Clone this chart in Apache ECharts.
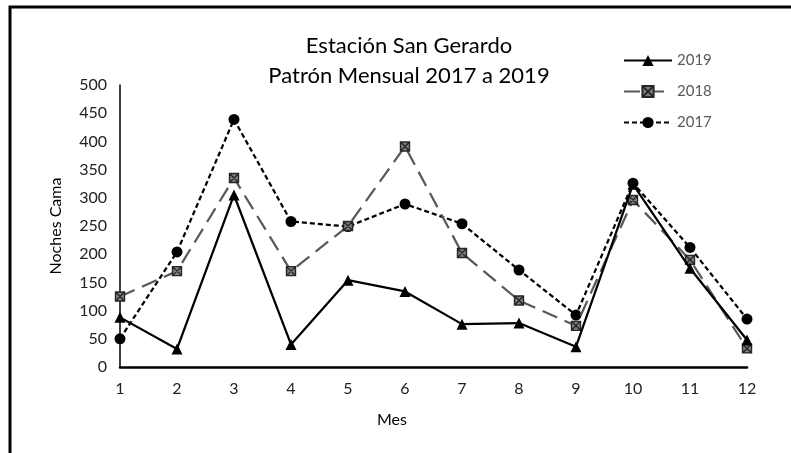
<!DOCTYPE html>
<html>
<head>
<meta charset="utf-8">
<script src="https://cdn.jsdelivr.net/npm/echarts@6/dist/echarts.min.js"></script>
<style>
html,body{margin:0;padding:0;background:#fff;}
#chart{width:791px;height:453px;}
</style>
</head>
<body>
<div id="chart"></div>
<script>
const months = ['1','2','3','4','5','6','7','8','9','10','11','12'];
const seriesNames = ['2019','2018','2017'];
const values2019 = [88, 32, 305, 40, 154, 134, 76, 78, 36, 324, 175, 48];
const values2018 = [125, 170, 335, 170, 250, 391, 202, 118, 73, 296, 190, 33];
const values2017 = [50, 204, 439, 258, 249, 289, 254, 172, 92, 326, 212, 85];
const yTicks = {min: 0, max: 500, interval: 50};
const titleText = 'Estación San Gerardo\nPatrón Mensual 2017 a 2019';
const xName = 'Mes';
const yName = 'Noches Cama';

const FONT = 'Lato';
const chart = echarts.init(document.getElementById('chart'));
const xMarker = 'path://M0,0L10,0L10,10L0,10Z M0,0L10,10 M10,0L0,10';

chart.setOption({
  animation: false,
  backgroundColor: '#fff',
  title: {
    text: titleText,
    left: 404,
    top: 26,
    textAlign: 'center',
    textStyle: {fontFamily: FONT, fontSize: 22, fontWeight: 'normal', color: '#000', lineHeight: 30}
  },
  legend: {
    orient: 'vertical',
    left: 618,
    top: 48,
    itemWidth: 48,
    itemHeight: 14,
    itemGap: 16,
    data: seriesNames,
    textStyle: {fontFamily: FONT, fontSize: 15, color: '#595959'}
  },
  grid: {left: 120, right: 44, top: 85, bottom: 86},
  xAxis: {
    type: 'category',
    data: months,
    boundaryGap: false,
    name: xName,
    nameLocation: 'middle',
    nameGap: 45,
    nameTextStyle: {fontFamily: FONT, fontSize: 16, color: '#000', padding: [0, 83, 0, 0]},
    axisLine: {lineStyle: {color: '#000', width: 2.5}},
    axisTick: {show: false},
    axisLabel: {fontFamily: FONT, fontSize: 16, color: '#222', margin: 14},
    splitLine: {show: false}
  },
  yAxis: {
    type: 'value',
    min: yTicks.min,
    max: yTicks.max,
    interval: yTicks.interval,
    name: yName,
    nameLocation: 'middle',
    nameGap: 56,
    nameTextStyle: {fontFamily: FONT, fontSize: 16, color: '#000'},
    axisLine: {show: true, lineStyle: {color: '#000', width: 1.5}},
    axisTick: {show: false},
    axisLabel: {fontFamily: FONT, fontSize: 16, color: '#222', margin: 13},
    splitLine: {show: false}
  },
  series: [
    {
      name: '2019', type: 'line', data: values2019, z: 4,
      symbol: 'triangle', symbolSize: 11,
      lineStyle: {color: '#000', width: 2.25, type: 'solid'},
      itemStyle: {color: '#000'}
    },
    {
      name: '2018', type: 'line', data: values2018, z: 3,
      symbol: xMarker, symbolSize: 9,
      lineStyle: {color: '#595959', width: 2.25, type: [16, 8]},
      itemStyle: {color: '#7f7f7f', borderColor: '#262626', borderWidth: 1.4}
    },
    {
      name: '2017', type: 'line', data: values2017, z: 2,
      symbol: 'circle', symbolSize: 11,
      lineStyle: {color: '#000', width: 2.25, type: [5, 3]},
      itemStyle: {color: '#000'}
    }
  ],
  graphic: [
    {type: 'rect', shape: {x: 10, y: 7, width: 1000, height: 1000},
     style: {fill: 'none', stroke: '#000', lineWidth: 3}, silent: true}
  ]
});
</script>
</body>
</html>
